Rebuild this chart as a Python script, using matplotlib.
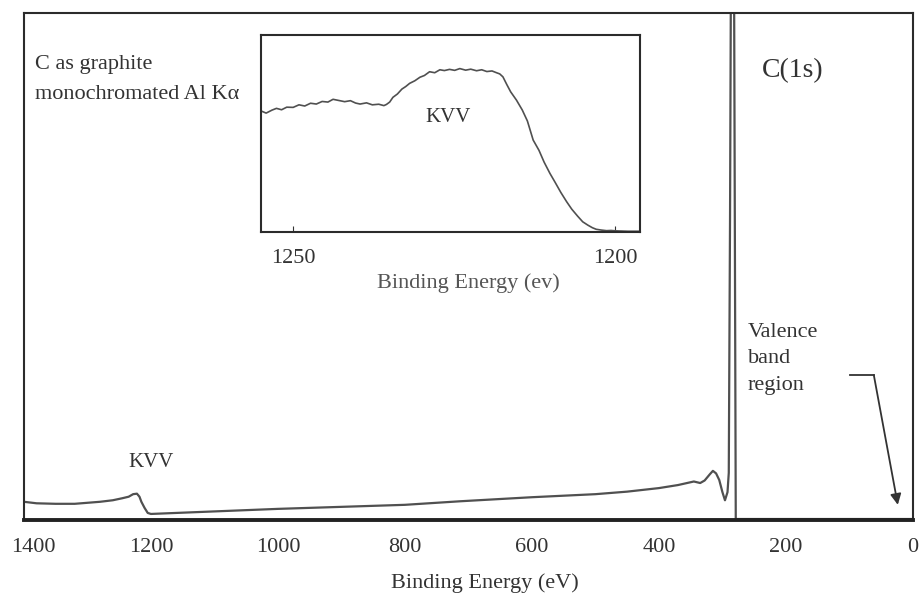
import numpy as np
import matplotlib
matplotlib.use("Agg")
import matplotlib.pyplot as plt
import matplotlib.transforms as mtransforms

# ::: Survey spectrum (binding energy in eV, intensity in arbitrary units) :::
survey_energy = [1400, 1380, 1350, 1320, 1300, 1280, 1260, 1245, 1235, 1228, 1222, 1218,
                 1215, 1210, 1205, 1200, 1100, 1000, 900, 800, 713, 600, 500, 450, 400,
                 370, 345, 335, 328, 320, 315, 310, 305, 300, 296, 292, 290, 288, 286,
                 284, 282, 280, 279, 270, 200, 100, 0]
survey_counts = [3.6, 3.3, 3.2, 3.2, 3.4, 3.6, 3.9, 4.3, 4.6, 5.1, 5.2, 4.6,
                 3.6, 2.4, 1.4, 1.2, 1.7, 2.2, 2.6, 3.0, 3.7, 4.5, 5.1, 5.6, 6.3,
                 6.9, 7.6, 7.3, 7.8, 9.0, 9.7, 9.2, 7.9, 5.5, 3.9, 5.5, 9.3, 60, 130,
                 140, 120, 40, 0.2, 0.2, 0.2, 0.2, 0.2]

# ::: Inset: KVV Auger region :::
kvv_energy = [1255.0, 1254.2, 1253.3, 1252.6, 1251.8, 1251.0, 1250.0, 1249.1, 1248.2, 1247.3,
              1246.4, 1245.5, 1244.6, 1243.8, 1242.9, 1242.0, 1241.1, 1240.3, 1239.6, 1238.6,
              1237.7, 1236.7, 1235.9, 1235.5, 1235.0, 1234.5, 1233.8, 1233.1, 1232.5, 1231.9,
              1231.1, 1230.3, 1229.6, 1228.8, 1228.0, 1227.2, 1226.5, 1225.7, 1224.9, 1224.1,
              1223.2, 1222.4, 1221.5, 1220.7, 1219.9, 1219.1, 1218.4, 1217.9, 1217.4, 1216.8,
              1216.2, 1215.3, 1214.4, 1213.6, 1212.7, 1211.8, 1211.0, 1210.1, 1209.3, 1208.4,
              1207.5, 1206.7, 1205.8, 1205.0, 1204.2, 1203.5, 1202.9, 1202.1, 1201.3, 1200.6,
              1199.8, 1198.9, 1198.0, 1197.0, 1196.1]
kvv_counts = [61.5, 60.4, 61.9, 62.8, 62.1, 63.4, 63.3, 64.6, 64.0, 65.4,
              65.0, 66.3, 66.0, 67.4, 66.8, 66.2, 66.7, 65.5, 65.0, 65.6,
              64.6, 64.9, 64.2, 64.8, 66.0, 68.4, 70.1, 72.6, 73.9, 75.5,
              76.8, 78.6, 79.5, 81.4, 80.9, 82.4, 82.0, 82.6, 82.1, 83.0,
              82.2, 82.7, 81.9, 82.4, 81.5, 81.8, 80.9, 80.3, 78.8, 74.9,
              71.2, 67.0, 62.0, 56.4, 46.7, 41.5, 35.5, 29.8, 25.3, 20.1,
              15.4, 11.6, 8.1, 5.2, 3.5, 2.2, 1.4, 1.0, 0.7, 0.8,
              0.6, 0.5, 0.4, 0.4, 0.4]

main_ticks = [1400, 1200, 1000, 800, 600, 400, 200, 0]
inset_ticks = [1250, 1200]

line_col = "#505050"
spine_col = "#2b2b2b"
txt_col = "#333333"
plt.rcParams['font.family'] = ['Liberation Serif', 'DejaVu Serif']

fig = plt.figure(figsize=(9.19, 5.95), dpi=100)

# ::: Main survey axes :::
ax = fig.add_axes([0.026, 0.126, 0.9674, 0.852])
ax.plot(survey_energy, survey_counts, color=line_col, lw=1.6)
ax.set_xlim(1400, 0)
ax.set_ylim(0, 100)
ax.set_xticks(main_ticks)
ax.set_xticklabels([str(t) for t in main_ticks], fontsize=16, color=txt_col)
ax.tick_params(axis='x', length=0, pad=13)
ax.set_yticks([])
for side in ['left', 'right', 'top']:
    ax.spines[side].set_color(spine_col)
    ax.spines[side].set_linewidth(1.5)
ax.spines['bottom'].set_color("#222222")
ax.spines['bottom'].set_linewidth(2.8)

# nudge the 1400 label inward so it is not cut at the figure edge
first = ax.get_xticklabels()[0]
first.set_transform(first.get_transform() +
                    mtransforms.ScaledTranslation(9 / 100, 0, fig.dpi_scale_trans))

fig.text(485 / 919, 1 - 583 / 595, "Binding Energy (eV)", ha='center', va='center',
         fontsize=16, color=txt_col)

ax.text(0.013, 0.899, "C as graphite", transform=ax.transAxes, fontsize=16,
        va='center', ha='left', color=txt_col)
ax.text(0.013, 0.839, "monochromated Al K\u03b1", transform=ax.transAxes, fontsize=16,
        va='center', ha='left', color=txt_col)
ax.text(0.830, 0.887, "C(1s)", transform=ax.transAxes, fontsize=20,
        va='center', ha='left', color=txt_col)
ax.text(1200, 11.4, "KVV", fontsize=15, ha='center', va='center', color=txt_col)
ax.text(0.814, 0.318, "Valence\nband\nregion", transform=ax.transAxes, fontsize=16,
        va='center', ha='left', color=txt_col, linespacing=1.55)

# ::: Arrow to valence band :::
ax.plot([0.929, 0.956], [0.286, 0.286], transform=ax.transAxes, color=txt_col, lw=1.3)
ax.annotate("", xy=(0.983, 0.03), xytext=(0.956, 0.286),
            xycoords='axes fraction', textcoords='axes fraction',
            arrowprops=dict(arrowstyle='-|>', color=txt_col, lw=1.3,
                            mutation_scale=16, shrinkA=0, shrinkB=0))

# ::: Inset axes :::
ins = fig.add_axes([0.284, 0.610, 0.4124, 0.331])
ins.plot(kvv_energy, kvv_counts, color=line_col, lw=1.2)
ins.set_xlim(1255, 1196.1)
ins.set_ylim(0, 100)
ins.set_xticks(inset_ticks)
ins.set_xticklabels([str(t) for t in inset_ticks], fontsize=16, color=txt_col)
ins.tick_params(axis='x', direction='in', length=4, pad=12, color=txt_col)
ins.set_yticks([])
for side in ins.spines:
    ins.spines[side].set_color(spine_col)
    ins.spines[side].set_linewidth(1.5)
ins.set_xlabel("Binding Energy (ev)", fontsize=16, color="#555555")
ins.xaxis.set_label_coords(0.546, -0.21)
ins.text(1226, 58, "KVV", fontsize=15, ha='center', va='center', color=txt_col)

fig.savefig("out.png", dpi=100)
